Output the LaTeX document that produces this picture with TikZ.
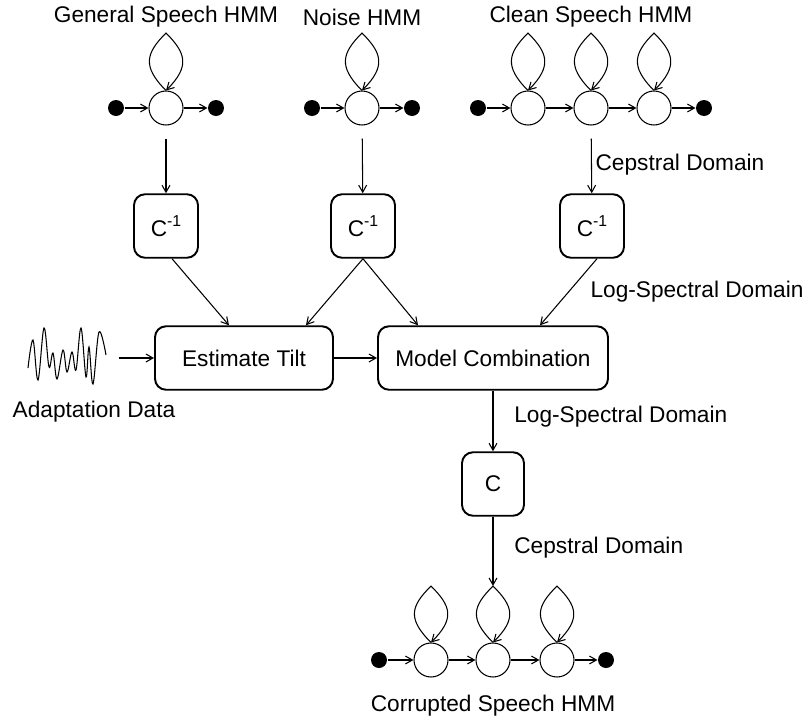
\documentclass[tikz,border=0pt]{standalone}
\usepackage{fontspec}
\setmainfont{Liberation Sans}
\usetikzlibrary{arrows.meta}

\begin{document}
\begin{tikzpicture}[x=0.02cm,y=0.02cm,line width=0.6pt,
            font=\fontsize{12.9}{15}\selectfont,
            >={Straight Barb[length=4pt,width=4.5pt]},
            state/.style={circle,draw=black,minimum size=0.68cm,inner sep=0pt},
            dot/.style={circle,fill=black,minimum size=0.32cm,inner sep=0pt},
            block/.style={draw=black,line width=1.1pt,rounded corners=0.22cm,minimum height=1.27cm},
            upleft/.style={out=135,in=-135,out distance=0.68cm,in distance=0.57cm},
            downright/.style={out=-45,in=45,out distance=0.57cm,in distance=0.68cm}]
            \useasboundingbox (0,0) rectangle (809,-724);
            \node (lgen) at (166,-17) {General Speech HMM};
            \node (lnoise) at (362,-17) {Noise HMM};
            \node (lclean) at (591,-17) {Clean Speech HMM};
            \node (lcep1) at (680,-165) {Cepstral Domain};
            \node (llog1) at (697,-292) {Log-Spectral Domain};
            \node (ladapt) at (94,-412) {Adaptation Data};
            \node[anchor=west] (llog2) at (508,-417) {Log-Spectral Domain};
            \node[anchor=west] (lcep2) at (508,-548) {Cepstral Domain};
            \node (lcorr) at (493,-706) {Corrupted Speech HMM};
            % hmms
            \node[dot] (g0) at (116,-108) {};
            \node[state] (g1) at (166,-108) {};
            \node[dot] (g2) at (216,-108) {};
            \node[dot] (n0) at (312,-108) {};
            \node[state] (n1) at (362,-108) {};
            \node[dot] (n2) at (412,-108) {};
            \node[dot] (k0) at (478,-108) {};
            \node[state] (k1) at (528,-108) {};
            \node[state] (k2) at (591,-108) {};
            \node[state] (k3) at (654,-108) {};
            \node[dot] (k4) at (704,-108) {};
            \node[dot] (b0) at (379,-660) {};
            \node[state] (b1) at (431,-660) {};
            \node[state] (b2) at (493,-660) {};
            \node[state] (b3) at (557,-660) {};
            \node[dot] (b4) at (606,-660) {};
            \coordinate (gt1) at (166,-33);
            \coordinate (nt1) at (362,-33);
            \coordinate (kt1) at (528,-33);
            \coordinate (kt2) at (591,-33);
            \coordinate (kt3) at (654,-33);
            \coordinate (bt1) at (431,-586);
            \coordinate (bt2) at (493,-586);
            \coordinate (bt3) at (557,-586);
            % blocks
            \node[block,minimum width=1.28cm] (c1) at (166,-226) {C\raisebox{0.8ex}{\small -1}};
            \node[block,minimum width=1.28cm] (c2) at (363,-226) {C\raisebox{0.8ex}{\small -1}};
            \node[block,minimum width=1.28cm] (c3) at (592,-226) {C\raisebox{0.8ex}{\small -1}};
            \node[block,minimum width=3.56cm] (et) at (244,-358) {Estimate Tilt};
            \node[block,minimum width=4.6cm] (mc) at (493,-358) {Model Combination};
            \node[block,minimum width=1.24cm] (cc) at (493,-484) {C};
            \coordinate (wv) at (119,-358);
            \draw plot[smooth,tension=0.6] coordinates {(28,-368) (33,-340) (38,-380) (44,-328) (49,-367)
                (53,-353) (57,-379) (63,-350) (67,-372) (72,-352) (76,-370) (81,-328) (86,-377)
                (89,-347) (93,-384) (99,-332) (106,-355)};
            % self loops
            \draw[->] (g1.north) to[upleft] (gt1) to[downright] (g1.north);
            \draw[->] (n1.north) to[upleft] (nt1) to[downright] (n1.north);
            \draw[->] (k1.north) to[upleft] (kt1) to[downright] (k1.north);
            \draw[->] (k2.north) to[upleft] (kt2) to[downright] (k2.north);
            \draw[->] (k3.north) to[upleft] (kt3) to[downright] (k3.north);
            \draw[->] (b1.north) to[upleft] (bt1) to[downright] (b1.north);
            \draw[->] (b2.north) to[upleft] (bt2) to[downright] (b2.north);
            \draw[->] (b3.north) to[upleft] (bt3) to[downright] (b3.north);
            % transitions
            \draw (g0) edge [->] (g1);
            \draw (g1) edge [->] (g2);
            \draw (n0) edge [->] (n1);
            \draw (n1) edge [->] (n2);
            \draw (k0) edge [->] (k1);
            \draw (k1) edge [->] (k2);
            \draw (k2) edge [->] (k3);
            \draw (k3) edge [->] (k4);
            \draw (b0) edge [->] (b1);
            \draw (b1) edge [->] (b2);
            \draw (b2) edge [->] (b3);
            \draw (b3) edge [->] (b4);
            % flow
            \draw (g1) edge [->,shorten <=0.26cm] (c1);
            \draw (n1) edge [->,shorten <=0.26cm] (c2);
            \draw (k2) edge [->,shorten <=0.26cm] (c3);
            \draw ([xshift=0.12cm]c1.south) edge [->] ([xshift=-0.3cm]et.north);
            \draw (c2.south) edge [->] ([xshift=1.24cm]et.north);
            \draw (c2.south) edge [->] ([xshift=-1.5cm]mc.north);
            \draw ([xshift=0.1cm]c3.south) edge [->] ([xshift=0.94cm]mc.north);
            \draw (wv) edge [->] (et);
            \draw (et) edge [->] (mc);
            \draw (mc) edge [->] (cc);
            \draw (cc) edge [->] (bt2);
        \end{tikzpicture}
\end{document}
